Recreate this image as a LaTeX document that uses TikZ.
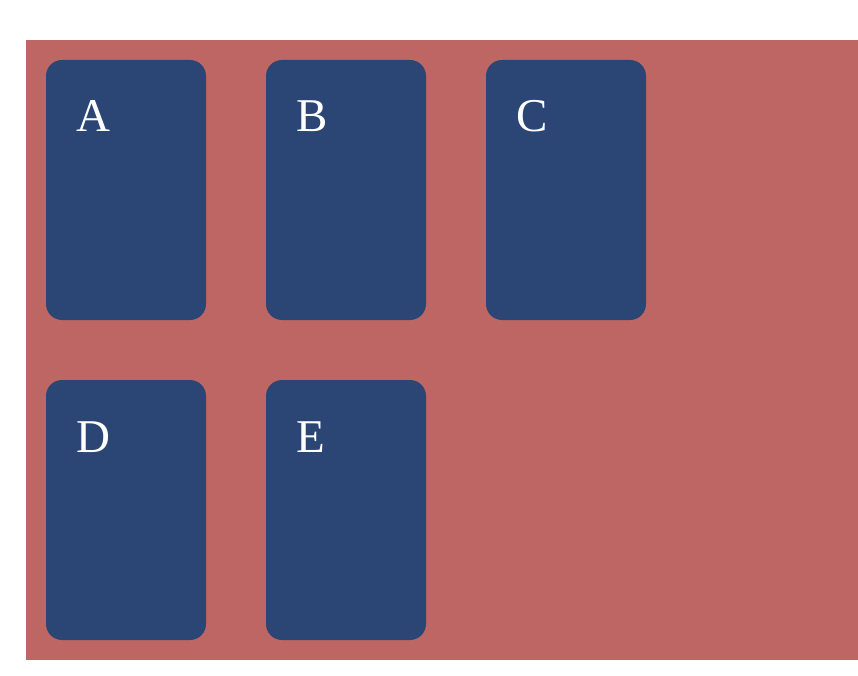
\documentclass[tikz,border=0pt]{standalone}
\usepackage{fontspec}
\setmainfont{Liberation Serif}
\definecolor{bgred}{HTML}{BE6664}
\definecolor{cardblue}{HTML}{2B4674}
\begin{document}
\begin{tikzpicture}[x=1pt,y=-1pt,
  card/.style={fill=cardblue,draw=none,rounded corners=16pt},
  lbl/.style={anchor=base west,text=white,font=\fontsize{47}{50}\selectfont,inner sep=0pt}]
\useasboundingbox (0,0) rectangle (858,676);
\fill[bgred] (26,40) rectangle (858,660);
\foreach \n/\x/\y in {A/46/60,B/266/60,C/486/60,D/46/380,E/266/380}{
  \path[card] (\x,\y) rectangle ++(160,260);
  \node[lbl] (lbl\n) at (\x+30,\y+72) {\n};
}
\end{tikzpicture}
\end{document}
